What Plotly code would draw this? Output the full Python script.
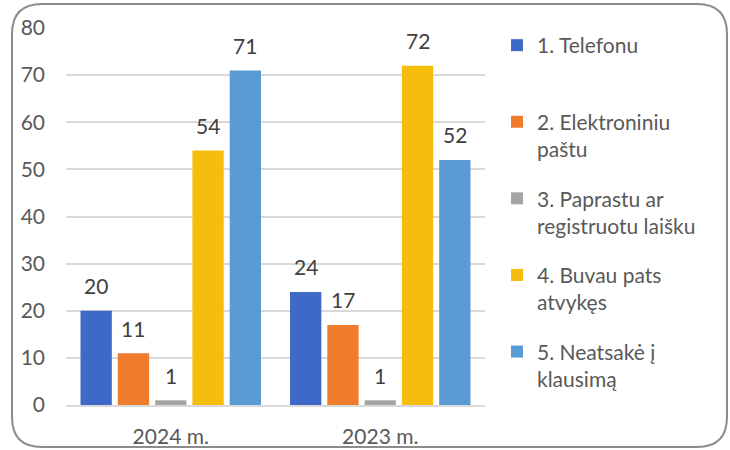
import plotly.graph_objects as go

categories = ["2024 m.", "2023 m."]
series_names = ["1. Telefonu<br> ", "2. Elektroniniu<br>paštu", "3. Paprastu ar<br>registruotu laišku",
                "4. Buvau pats<br>atvykęs", "5. Neatsakė į<br>klausimą"]
telefonu = [20, 24]
el_pastu = [11, 17]
laisku = [1, 1]
atvykes = [54, 72]
neatsake = [71, 52]
series_values = [telefonu, el_pastu, laisku, atvykes, neatsake]
colors = ["#3E69C6", "#EF7B2D", "#A5A5A5", "#F5BE0C", "#5B9BD5"]

W, H = 730, 450
L, R, T, B = 66, 245, 28, 45
BARGAP = 0.11
FONT = "Lato, 'Open Sans', sans-serif"

fig = go.Figure()
for i, (name, vals, col) in enumerate(zip(series_names, series_values, colors)):
    fig.add_trace(go.Bar(
        x=categories, y=vals, name=name,
        marker=dict(color=col, line=dict(width=0)),
        legendgroup=str(i),
    ))

# data labels above bars
n = len(series_values)
slot = (1 - BARGAP) / n
for i, vals in enumerate(series_values):
    for j, v in enumerate(vals):
        fig.add_annotation(
            x=j + (i - (n - 1) / 2) * slot, y=v, xref="x", yref="y",
            text=str(v), showarrow=False, yanchor="middle", yshift=25,
            font=dict(family=FONT, size=21, color="#404040"),
        )

# rounded border
pw, ph = W - L - R, H - T - B
def px(xp):
    return (xp - L) / pw
def py(yp):
    return (H - B - yp) / ph
x0, x1, y0, y1, r = 12, 727, 4, 447, 30
path = (f"M {px(x0+r)},{py(y0)} L {px(x1-r)},{py(y0)} Q {px(x1)},{py(y0)} {px(x1)},{py(y0+r)} "
        f"L {px(x1)},{py(y1-r)} Q {px(x1)},{py(y1)} {px(x1-r)},{py(y1)} "
        f"L {px(x0+r)},{py(y1)} Q {px(x0)},{py(y1)} {px(x0)},{py(y1-r)} "
        f"L {px(x0)},{py(y0+r)} Q {px(x0)},{py(y0)} {px(x0+r)},{py(y0)} Z")
fig.add_shape(type="path", xref="paper", yref="paper", path=path,
              line=dict(color="#8C8C8C", width=2), layer="below")

fig.update_layout(
    width=W, height=H,
    margin=dict(l=L, r=R, t=T, b=B, autoexpand=False),
    barmode="group", bargap=BARGAP, bargroupgap=0.16,
    paper_bgcolor="white", plot_bgcolor="white",
    font=dict(family=FONT, size=21, color="#595959"),
    showlegend=True,
    legend=dict(
        x=px(497), xanchor="left", y=py(25), yanchor="top",
        font=dict(family=FONT, size=21, color="#595959"),
        valign="top", traceorder="grouped", tracegroupgap=19,
        bgcolor="rgba(0,0,0,0)", maxheight=440,
    ),
)
fig.update_yaxes(range=[0, 80], dtick=10, showgrid=True, gridcolor="#D9D9D9", gridwidth=1.5,
                 zeroline=False, showline=False, ticks="", ticklabelstandoff=20, automargin=False,
                 tickfont=dict(family=FONT, size=21, color="#595959"))
fig.update_xaxes(showline=True, linecolor="#D9D9D9", linewidth=1.5, ticks="",
                 ticklabelstandoff=12, automargin=False,
                 tickfont=dict(family=FONT, size=21, color="#595959"))

fig.write_html("out.html", config={"displayModeBar": False},
               post_script="document.body.style.margin='0';document.body.style.overflow='hidden';")
